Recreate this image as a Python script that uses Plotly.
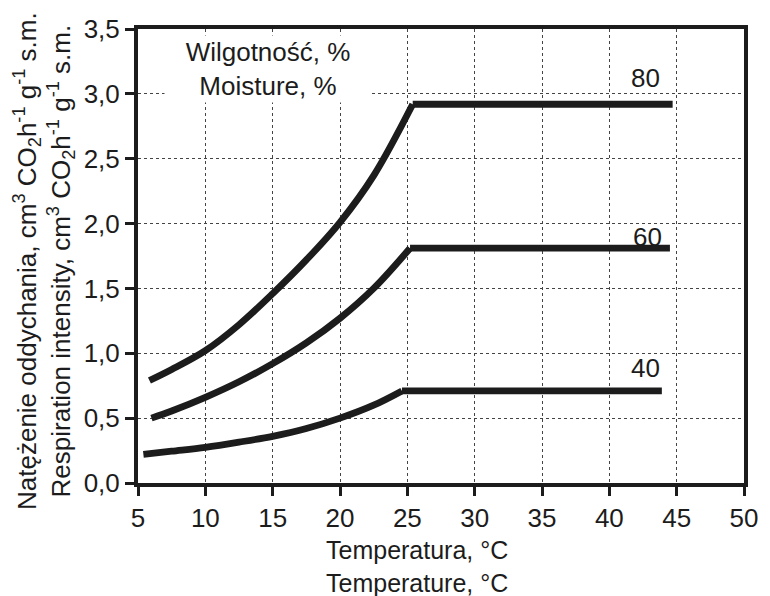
import plotly.graph_objects as go

# Respiration intensity vs temperature for three moisture levels
moisture_labels = ["80", "60", "40"]

temp_80 = [5.85, 7.5, 10, 12.5, 15, 17.5, 20, 22.5, 25.4]
resp_80 = [0.79, 0.875, 1.02, 1.22, 1.46, 1.72, 2.01, 2.37, 2.92]
plateau_end_80 = 44.7

temp_60 = [6.0, 7.5, 10, 12.5, 15, 17.5, 20, 22.5, 25.2]
resp_60 = [0.50, 0.555, 0.66, 0.78, 0.92, 1.08, 1.27, 1.50, 1.81]
plateau_end_60 = 44.5

temp_40 = [5.4, 7.5, 10, 12.5, 15, 17.5, 20, 22.5, 24.6]
resp_40 = [0.22, 0.245, 0.275, 0.315, 0.36, 0.42, 0.50, 0.60, 0.71]
plateau_end_40 = 43.9

label_x = [42.7, 42.8, 42.7]
label_y = [3.12, 1.90, 0.885]

x_ticks = [5, 10, 15, 20, 25, 30, 35, 40, 45, 50]
y_ticks = [0.0, 0.5, 1.0, 1.5, 2.0, 2.5, 3.0, 3.5]

INK = "#1c1c1c"
FONT = "Liberation Sans, Arial, sans-serif"
LW = 6.8

fig = go.Figure()

series = [
    (temp_80, resp_80, plateau_end_80),
    (temp_60, resp_60, plateau_end_60),
    (temp_40, resp_40, plateau_end_40),
]
for t, r, end in series:
    # rising part, smoothed
    fig.add_trace(go.Scatter(
        x=t, y=r, mode="lines",
        line=dict(color=INK, width=LW, shape="spline", smoothing=1.0),
        showlegend=False, hoverinfo="skip",
    ))
    # constant part above the break temperature
    fig.add_trace(go.Scatter(
        x=[t[-1], end], y=[r[-1], r[-1]], mode="lines",
        line=dict(color=INK, width=LW),
        showlegend=False, hoverinfo="skip",
    ))

annotations = []
for txt, lx, ly in zip(moisture_labels, label_x, label_y):
    annotations.append(dict(
        x=lx, y=ly, xref="x", yref="y", text=txt, showarrow=False,
        font=dict(family=FONT, size=26, color=INK),
        xanchor="center", yanchor="middle",
    ))

# moisture key box
annotations.append(dict(
    x=14.68, y=3.19, xref="x", yref="y",
    text="Wilgotność, %<br>Moisture, %", showarrow=False,
    font=dict(family=FONT, size=26, color=INK),
    bgcolor="white", width=202, height=62, borderpad=2,
    xanchor="center", yanchor="middle", align="center",
))

# axis titles
annotations.append(dict(
    x=0.461, y=-0.185, xref="paper", yref="paper",
    text="Temperatura, °C<br>Temperature, °C", showarrow=False,
    font=dict(family=FONT, size=25, color=INK),
    xanchor="center", yanchor="middle", align="center",
))
annotations.append(dict(
    x=-0.156, y=0.49, xref="paper", yref="paper", textangle=-90,
    text=("Natężenie oddychania, cm<sup>3</sup> CO<sub>2</sub>h<sup>-1</sup> g<sup>-1</sup> s.m."
          "<br>Respiration intensity, cm<sup>3</sup> CO<sub>2</sub>h<sup>-1</sup> g<sup>-1</sup> s.m."),
    showarrow=False,
    font=dict(family=FONT, size=26, color=INK),
    xanchor="center", yanchor="middle", align="center",
))

axis_common = dict(
    showline=True, linecolor=INK, linewidth=4, mirror=True,
    ticks="outside", ticklen=9, tickwidth=3, tickcolor=INK,
    showgrid=True, gridcolor="#444444", gridwidth=1.3, griddash="dot",
    zeroline=False,
    tickfont=dict(family=FONT, size=26, color=INK),
)

fig.update_layout(
    width=770, height=596,
    margin=dict(l=138, r=18, t=29, b=113),
    paper_bgcolor="white", plot_bgcolor="white",
    separators=", ",
    xaxis=dict(range=[5, 50], tickvals=x_ticks, **axis_common),
    yaxis=dict(range=[0, 3.5], tickvals=y_ticks, tickformat=".1f", **axis_common),
    annotations=annotations,
    showlegend=False,
)

fig.write_html("out.html")
